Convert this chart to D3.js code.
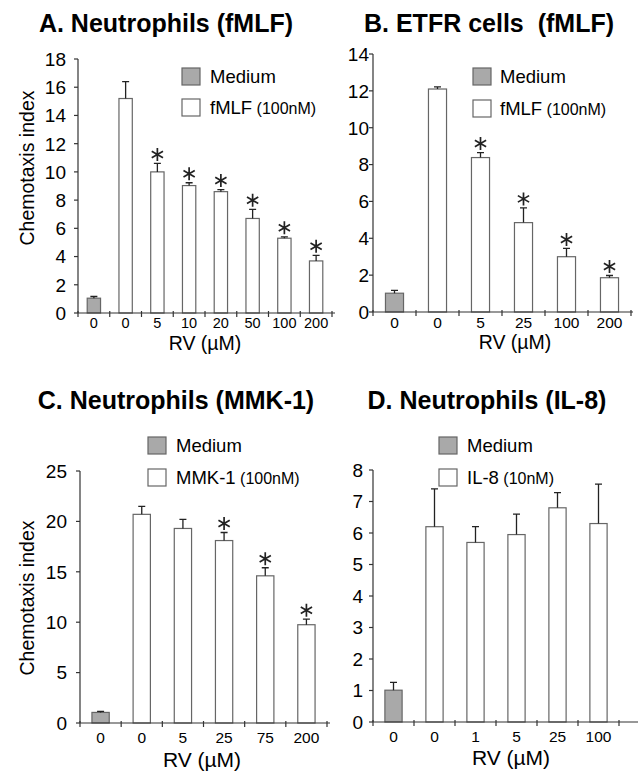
<!DOCTYPE html>
<html lang="en">
<head>
<meta charset="UTF-8">
<title>Chemotaxis index – RV</title>
<script src="https://d3js.org/d3.v7.min.js"></script>
<style>
  body { margin: 0; background: #fff; }
  svg { font-family: "Liberation Sans", Arial, sans-serif; display: block; }
  .title { font-weight: bold; font-size: 25px; fill: #000; white-space: pre; }
  .bar { stroke: #666; stroke-width: 1.2; }
  .err, .star { stroke: #222; stroke-width: 1.3; fill: none; }
  .axis-line { stroke: #333; stroke-width: 1.2; }
</style>
</head>
<body>
<svg id="chart" width="641" height="775"></svg>
<script>
// ---- data ----
const labelsA = ["0", "0", "5", "10", "20", "50", "100", "200"];
const valuesA = [1.05, 15.2, 10.0, 9.03, 8.6, 6.7, 5.3, 3.69];
const errorsA = [0.12, 1.2, 0.6, 0.2, 0.15, 0.65, 0.1, 0.4];
const starsA  = [false, false, true, true, true, true, true, true];
const yTicksA = [0, 2, 4, 6, 8, 10, 12, 14, 16, 18];

const labelsB = ["0", "0", "5", "25", "100", "200"];
const valuesB = [1.02, 12.1, 8.38, 4.85, 3.0, 1.86];
const errorsB = [0.15, 0.12, 0.27, 0.8, 0.45, 0.12];
const starsB  = [false, false, true, true, true, true];
const yTicksB = [0, 2, 4, 6, 8, 10, 12, 14];

const labelsC = ["0", "0", "5", "25", "75", "200"];
const valuesC = [1.05, 20.7, 19.3, 18.1, 14.6, 9.75];
const errorsC = [0.1, 0.8, 0.9, 0.8, 0.8, 0.55];
const starsC  = [false, false, false, true, true, true];
const yTicksC = [0, 5, 10, 15, 20, 25];

const labelsD = ["0", "0", "1", "5", "25", "100"];
const valuesD = [1.01, 6.2, 5.7, 5.95, 6.8, 6.3];
const errorsD = [0.25, 1.2, 0.5, 0.65, 0.48, 1.25];
const starsD  = [false, false, false, false, false, false];
const yTicksD = [0, 1, 2, 3, 4, 5, 6, 7, 8];

const legendNames = ["Medium", "fMLF", "fMLF", "MMK-1", "IL-8"];
const legendDoses = ["", "(100nM)", "(100nM)", "(100nM)", "(10nM)"];
const titles = ["A. Neutrophils (fMLF)", "B. ETFR cells  (fMLF)",
                "C. Neutrophils (MMK-1)", "D. Neutrophils (IL-8)"];
const xTitle = "RV (\u00b5M)";
const yTitle = "Chemotaxis index";

// ---- layout per panel ----
const panels = [
  { labels: labelsA, values: valuesA, errors: errorsA, stars: starsA, yTicks: yTicksA,
    title: titles[0], tx: 166, ty: 32,
    x0: 78, x1: 332, xEnd: 335, yTop: 59, yBot: 313, yLabGap: 12,
    xLabDy: 15, xLabSize: 14.5, xTitleX: 205, xTitleY: 350, xTitleSize: 19.5,
    yTitleX: 27, yTitleY: 168,
    legX: 182, legY: 68, legY2: 99, legTx: 210, treat: legendNames[1], dose: legendDoses[1] },
  { labels: labelsB, values: valuesB, errors: errorsB, stars: starsB, yTicks: yTicksB,
    title: titles[1], tx: 489, ty: 32,
    x0: 373, x1: 631, xEnd: 633, yTop: 54, yBot: 312, yLabGap: 4,
    xLabDy: 16, xLabSize: 15.5, xTitleX: 515, xTitleY: 349, xTitleSize: 19.5,
    yTitleX: null,
    legX: 473, legY: 68, legY2: 100, legTx: 500, treat: legendNames[2], dose: legendDoses[2] },
  { labels: labelsC, values: valuesC, errors: errorsC, stars: starsC, yTicks: yTicksC,
    title: titles[2], tx: 176, ty: 409,
    x0: 80, x1: 327, xEnd: 330, yTop: 471, yBot: 723, yLabGap: 13,
    xLabDy: 20, xLabSize: 15.5, xTitleX: 202, xTitleY: 767, xTitleSize: 21,
    yTitleX: 27, yTitleY: 598,
    legX: 148, legY: 437, legY2: 469, legTx: 176, treat: legendNames[3], dose: legendDoses[3] },
  { labels: labelsD, values: valuesD, errors: errorsD, stars: starsD, yTicks: yTicksD,
    title: titles[3], tx: 487, ty: 409,
    x0: 373, x1: 619, xEnd: 638, yTop: 470, yBot: 722, yLabGap: 10,
    xLabDy: 20, xLabSize: 15.5, xTitleX: 511, xTitleY: 765, xTitleSize: 21,
    yTitleX: null,
    legX: 439, legY: 437, legY2: 469, legTx: 467, treat: legendNames[4], dose: legendDoses[4] }
];

const svg = d3.select("#chart");

panels.forEach(p => {
  const g = svg.append("g");
  const idx = d3.range(p.labels.length);

  const x = d3.scaleBand().domain(idx).range([p.x0, p.x1]).padding(0);
  const y = d3.scaleLinear()
      .domain([0, d3.max(p.yTicks)])
      .range([p.yBot, p.yTop]);
  const bw = x.bandwidth() * 0.42;

  // title
  g.append("text").attr("class", "title")
    .attr("x", p.tx).attr("y", p.ty)
    .attr("text-anchor", "middle")
    .text(p.title);

  // bars
  g.selectAll("rect.bar").data(idx).join("rect")
    .attr("class", "bar")
    .attr("x", i => x(i) + (x.bandwidth() - bw) / 2)
    .attr("width", bw)
    .attr("y", i => y(p.values[i]))
    .attr("height", i => y(0) - y(p.values[i]))
    .attr("fill", i => i === 0 ? "#a9a9a9" : "#fff");

  // error bars (upper only)
  const cx = i => x(i) + x.bandwidth() / 2;
  g.selectAll("path.err").data(idx).join("path")
    .attr("class", "err")
    .attr("d", i => {
      const top = y(p.values[i] + p.errors[i]);
      return `M${cx(i)},${y(p.values[i])}V${top}M${cx(i) - 3.5},${top}H${cx(i) + 3.5}`;
    });

  // significance stars
  const r = 6.5;
  g.selectAll("path.star").data(idx.filter(i => p.stars[i])).join("path")
    .attr("class", "star")
    .style("stroke-width", 1.7)
    .attr("d", i => {
      const sx = cx(i), sy = y(p.values[i] + p.errors[i]) - 9;
      let d = "";
      [90, 30, -30].forEach(a => {
        const dx = r * Math.cos(a * Math.PI / 180), dy = r * Math.sin(a * Math.PI / 180);
        d += `M${sx - dx},${sy - dy}L${sx + dx},${sy + dy}`;
      });
      return d;
    });

  // y axis
  g.append("line").attr("class", "axis-line")
    .attr("x1", p.x0).attr("x2", p.x0)
    .attr("y1", y(d3.max(p.yTicks))).attr("y2", y(0));
  g.selectAll("line.ytick").data(p.yTicks).join("line")
    .attr("class", "axis-line ytick")
    .attr("x1", p.x0 - 4).attr("x2", p.x0)
    .attr("y1", d => y(d)).attr("y2", d => y(d));
  g.selectAll("text.ylab").data(p.yTicks).join("text")
    .attr("class", "ylab")
    .attr("x", p.x0 - p.yLabGap).attr("y", d => y(d))
    .attr("dy", "0.36em")
    .attr("text-anchor", "end")
    .style("font-size", "19px")
    .text(d => d);

  // x axis
  g.append("line").attr("class", "axis-line")
    .attr("x1", p.x0).attr("x2", p.xEnd)
    .attr("y1", y(0)).attr("y2", y(0));
  g.selectAll("line.xtick").data(d3.range(p.labels.length + 1)).join("line")
    .attr("class", "axis-line xtick")
    .attr("x1", i => p.x0 + i * x.step()).attr("x2", i => p.x0 + i * x.step())
    .attr("y1", y(0) - 2).attr("y2", y(0) + 4);
  g.selectAll("text.xlab").data(idx).join("text")
    .attr("class", "xlab")
    .attr("x", cx).attr("y", y(0) + p.xLabDy)
    .attr("text-anchor", "middle")
    .style("font-size", p.xLabSize + "px")
    .text(i => p.labels[i]);

  g.append("text")
    .attr("x", p.xTitleX).attr("y", p.xTitleY)
    .attr("text-anchor", "middle")
    .style("font-size", p.xTitleSize + "px")
    .text(xTitle);

  if (p.yTitleX !== null) {
    g.append("text")
      .attr("transform", `translate(${p.yTitleX},${p.yTitleY}) rotate(-90)`)
      .attr("text-anchor", "middle")
      .attr("dy", "0.36em")
      .style("font-size", "19.5px")
      .text(yTitle);
  }

  // legend
  const leg = [
    { y: p.legY, fill: "#a9a9a9", name: legendNames[0], dose: legendDoses[0] },
    { y: p.legY2, fill: "#fff", name: p.treat, dose: p.dose }
  ];
  leg.forEach(l => {
    g.append("rect").attr("class", "bar")
      .attr("x", p.legX).attr("y", l.y)
      .attr("width", 18).attr("height", 17)
      .attr("fill", l.fill);
    const t = g.append("text")
      .attr("x", p.legTx).attr("y", l.y + 8.5)
      .attr("dy", "0.36em")
      .style("font-size", "18.5px")
      .text(l.name);
    if (l.dose) {
      t.append("tspan").style("font-size", "16px").text(" " + l.dose);
    }
  });
});
</script>
</body>
</html>
